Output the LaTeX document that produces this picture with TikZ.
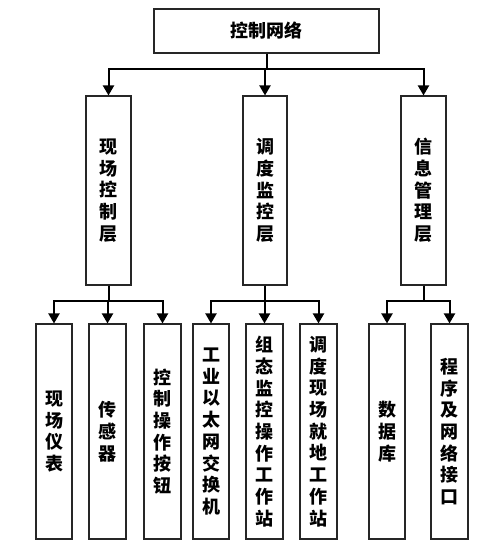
\documentclass[tikz,border=0pt]{standalone}
\usepackage{fontspec}
\newfontfamily\cjk{Noto Sans CJK SC}
\usetikzlibrary{arrows.meta}
\begin{document}
\begin{tikzpicture}[x=1pt,y=-1pt,
  box/.style={draw=black!85,line width=1.1pt,fill=white,inner sep=0pt,align=center,
    font=\cjk\bfseries\fontsize{18}{21.7}\selectfont},
  conn/.style={draw=black,line width=2pt,-{Triangle[width=11pt,length=10pt]}}]
\useasboundingbox (0,0) rectangle (499,546);
\node[box,minimum width=225pt,minimum height=44pt] (top) at (266.5,31) {控制网络};
\node[box,minimum width=45pt,minimum height=189pt] (A) at (108.5,190.5) {现\\场\\控\\制\\层};
\node[box,minimum width=44pt,minimum height=189pt] (B) at (265,190.5) {调\\度\\监\\控\\层};
\node[box,minimum width=45pt,minimum height=189pt] (C) at (423.5,190.5) {信\\息\\管\\理\\层};
\foreach \n/\x/\w/\t in {a/54/36/{现\\场\\仪\\表},b/107.5/37/{传\\感\\器},c/162.5/37/{控\\制\\操\\作\\按\\钮},
  d/211/36/{工\\业\\以\\太\\网\\交\\换\\机},e/264.5/37/{组\\态\\监\\控\\操\\作\\工\\作\\站},
  f/318.5/37/{调\\度\\现\\场\\就\\地\\工\\作\\站},g/387/36/{数\\据\\库},h/449.5/37/{程\\序\\及\\网\\络\\接\\口}}
  \node[box,minimum width=\w pt,minimum height=215pt] (\n) at (\x,431.5) {\t};
\foreach \c in {A,B,C} \draw[conn] (top.south) -- ++(0,15) -| (\c.north);
\foreach \c in {a,b,c} \draw[conn] (A.south) -- ++(0,15.5) -| (\c.north);
\foreach \c in {d,e,f} \draw[conn] (B.south) -- ++(0,15.5) -| (\c.north);
\foreach \c in {g,h} \draw[conn] (C.south) -- ++(0,15.5) -| (\c.north);
\end{tikzpicture}
\end{document}
